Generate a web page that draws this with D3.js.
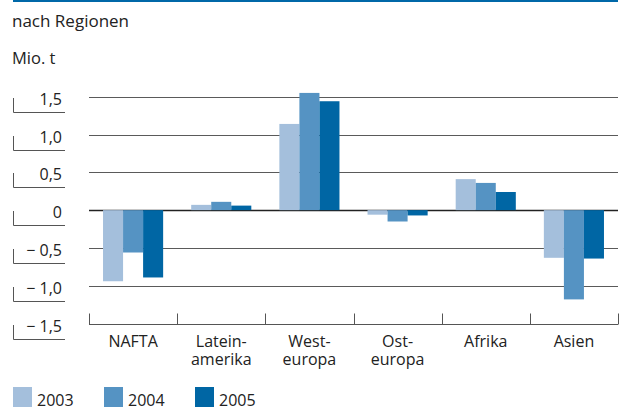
<!DOCTYPE html>
<html>
<head>
<meta charset="utf-8">
<script src="https://cdn.jsdelivr.net/npm/d3@7"></script>
<style>
  body { margin: 0; background: #fff; }
  svg text { font-family: "Open Sans", sans-serif; fill: #222; }
</style>
</head>
<body>
<svg id="chart" width="629" height="407"></svg>
<script>
const regions = ["NAFTA", "Latein-\namerika", "West-\neuropa", "Ost-\neuropa", "Afrika", "Asien"];
const years = ["2003", "2004", "2005"];
const v2003 = [-0.94, 0.07, 1.14, -0.06, 0.41, -0.63];
const v2004 = [-0.56, 0.11, 1.55, -0.15, 0.36, -1.18];
const v2005 = [-0.89, 0.06, 1.44, -0.07, 0.24, -0.64];
const yTicks = [1.5, 1.0, 0.5, 0, -0.5, -1.0, -1.5];
const colors = ["#a4bfdc", "#5593c3", "#0066a4"];

const series = [v2003, v2004, v2005];
const svg = d3.select("#chart");

// top rule
svg.append("line").attr("x1", 13).attr("x2", 618).attr("y1", 1).attr("y2", 1)
    .attr("stroke", "#0068a8").attr("stroke-width", 2);

svg.append("text").attr("x", 12).attr("y", 26.5).attr("font-size", 17).text("nach Regionen");
svg.append("text").attr("x", 12).attr("y", 64).attr("font-size", 16.5).text("Mio. t");

const x = d3.scaleBand().domain(regions).range([89, 618]).paddingInner(0).paddingOuter(0);
const xs = d3.scaleBand().domain(years).range([0, x.bandwidth()]).paddingOuter(0.7).paddingInner(0);
const y = d3.scaleLinear().domain([-1.5, 1.5]).range([323.6, 96.7]);

const fmt = v => v === 0 ? "0" : (v < 0 ? "\u2212 " : "") + d3.format(".1f")(Math.abs(v)).replace(".", ",");

// gridlines
svg.append("g").selectAll("line").data(yTicks.filter(t => t > -1.5)).join("line")
    .attr("x1", 89).attr("x2", 618)
    .attr("y1", d => Math.round(y(d)) + 0.5).attr("y2", d => Math.round(y(d)) + 0.5)
    .attr("stroke", d => d === 0 ? "#222" : "#5a5a5a").attr("stroke-width", d => d === 0 ? 1.3 : 1.1);

// y labels with bracket marks
const yl = svg.append("g").selectAll("g").data(yTicks).join("g")
    .attr("transform", d => `translate(0,${Math.round(y(d))})`);
yl.append("path").attr("d", "M13.5,1V15.5H65").attr("fill", "none").attr("stroke", "#555");
yl.append("text").attr("x", 62).attr("y", 7.5).attr("text-anchor", "end").attr("font-size", 16).text(fmt);

// bars
const grp = svg.append("g").selectAll("g").data(regions).join("g")
    .attr("transform", d => `translate(${x(d)},0)`);
grp.selectAll("rect").data((d, i) => series.map((s, k) => ({ year: years[k], v: s[i], k }))).join("rect")
    .attr("x", d => xs(d.year))
    .attr("width", xs.bandwidth())
    .attr("y", d => y(Math.max(0, d.v)))
    .attr("height", d => Math.abs(y(d.v) - y(0)))
    .attr("fill", d => colors[d.k]);

// category axis
const axY = Math.round(y(-1.5)) + 0.5;
svg.append("line").attr("x1", 89).attr("x2", 618).attr("y1", axY).attr("y2", axY).attr("stroke", "#555");
const edges = regions.map(r => x(r)).concat([x.range()[1]]);
svg.append("g").selectAll("line").data(edges).join("line")
    .attr("x1", d => Math.round(d) + 0.5).attr("x2", d => Math.round(d) + 0.5)
    .attr("y1", axY - 11).attr("y2", axY).attr("stroke", "#555");

const catLines = regions.flatMap(r => r.split("\n").map((t, i) => ({ r, t, i })));
svg.append("g").selectAll("text").data(catLines).join("text")
    .attr("x", d => x(d.r) + x.bandwidth() / 2).attr("y", d => 347 + d.i * 17.5)
    .attr("text-anchor", "middle").attr("font-size", 16).text(d => d.t);

// legend
const lg = svg.append("g").selectAll("g").data(years).join("g")
    .attr("transform", (d, i) => `translate(${13 + i * 91},387)`);
lg.append("rect").attr("width", 19).attr("height", 20).attr("fill", (d, i) => colors[i]);
lg.append("text").attr("x", 24).attr("y", 18.5).attr("font-size", 16).text(d => d);
</script>
</body>
</html>
